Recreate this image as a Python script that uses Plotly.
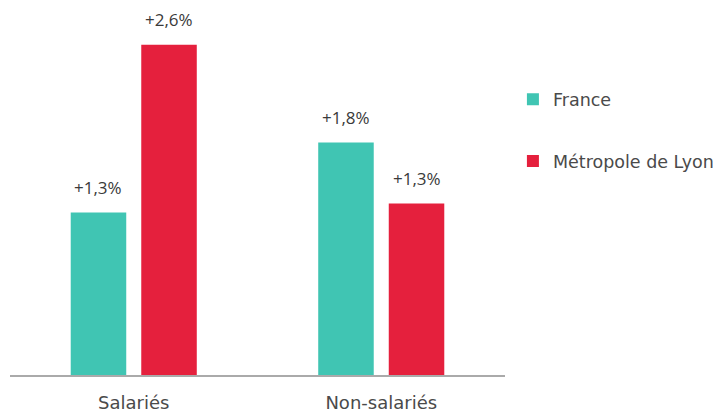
import plotly.graph_objects as go

categories = ["Salariés", "Non-salariés"]
france_values = [1.28, 1.83]
lyon_values = [2.6, 1.35]
france_labels = ["+1,3%", "+1,8%"]
lyon_labels = ["+2,6%", "+1,3%"]

LABEL_FONT = "Open Sans"
TEXT_FONT = "DejaVu Sans"
TEXT_COLOR = "#3a3a3a"

# the page places the figure 8px from the top-left corner of the window
W, H = 716, 404
ML, MR, MT, MB = 2, 219, 0, 37
BARGAP, BARGROUPGAP = 0.43, 0.213

fig = go.Figure()
series = [
    ("France", france_values, france_labels, "#40C5B3", "fr"),
    ("Métropole de Lyon", lyon_values, lyon_labels, "#E5203D", "ly"),
]
for name, vals, labs, col, grp in series:
    fig.add_trace(go.Bar(
        name=name, x=categories, y=vals,
        marker=dict(color=col, line=dict(width=0)),
        legendgroup=grp, cliponaxis=False,
    ))

# value labels above bars, offset to the grouped bar position
plot_w = W - ML - MR
cat_w = plot_w / len(categories)
slot = cat_w * (1 - BARGAP) / len(series)
for i, (name, vals, labs, col, grp) in enumerate(series):
    shift = (i - (len(series) - 1) / 2) * slot
    for c, v, t in zip(categories, vals, labs):
        fig.add_annotation(x=c, y=v, text=t, showarrow=False,
                           xshift=shift, yshift=25,
                           font=dict(family=LABEL_FONT, size=17, color=TEXT_COLOR))

fig.update_layout(
    width=W, height=H,
    margin=dict(l=ML, r=MR, t=MT, b=MB, autoexpand=False),
    paper_bgcolor="white", plot_bgcolor="white",
    barmode="group", bargap=BARGAP, bargroupgap=BARGROUPGAP,
    font=dict(family=TEXT_FONT, size=18, color=TEXT_COLOR),
    showlegend=True,
    legend=dict(x=1.016, y=0.80, xanchor="left", yanchor="top",
                font=dict(family=TEXT_FONT, size=17.5, color="#4a4a4a"),
                tracegroupgap=36, itemwidth=30),
    xaxis=dict(showline=True, linecolor="#aaaaaa", linewidth=1.5,
               showgrid=False, ticks="", ticklabelstandoff=11, automargin=False,
               tickfont=dict(family=TEXT_FONT, size=18, color="#4a4a4a")),
    yaxis=dict(range=[0, 2.89], visible=False, showgrid=False, zeroline=False,
               automargin=False),
)

fig.write_html("out.html")
